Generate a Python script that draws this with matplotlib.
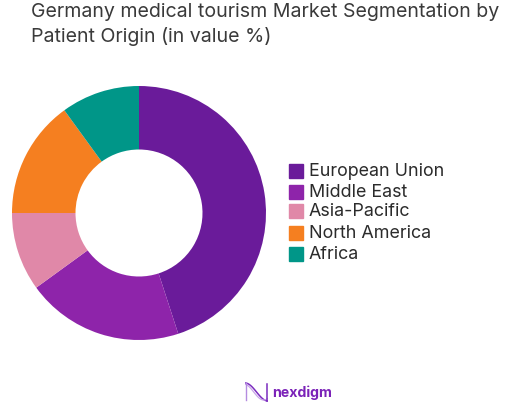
import numpy as np
import matplotlib
matplotlib.use('Agg')
import matplotlib.pyplot as plt
from matplotlib.patches import Rectangle

plt.rcParams['font.family'] = ['Inter', 'DejaVu Sans']

title_lines = ['Germany medical tourism Market Segmentation by', 'Patient Origin (in value %)']
labels = ['European Union', 'Middle East', 'Asia-Pacific', 'North America', 'Africa']
values = [45, 20, 10, 15, 10]
colors = ['#6A1B9A', '#8E24AA', '#E088A8', '#F57F20', '#009688']
logo_text = 'nexdigm'

W, H = 523, 409
fig = plt.figure(figsize=(W/100, H/100), dpi=100)

# donut
ax = fig.add_axes([12/W, 1-340/H, 254/W, 254/H])
ax.pie(values, colors=colors, startangle=90, counterclock=False, radius=1,
       wedgeprops=dict(width=0.5))
ax.set_xlim(-1, 1)
ax.set_ylim(-1, 1)

# title
for y, line in zip([12, 36], title_lines):
    fig.text(31/W, 1-y/H, line, fontsize=14.1, color='#3a3a3a', va='center')

# legend, rows are not evenly spaced in the original
legend_y = [171, 192, 211, 233, 254]
for y, lab, c in zip(legend_y, labels, colors):
    fig.add_artist(Rectangle((289/W, 1-(y+7)/H), 14/W, 14/H, color=c, transform=fig.transFigure))
    fig.text(309/W, 1-(y+0.5)/H, lab, fontsize=12.9, color='#2b2b2b', va='center')

# logo
logo = fig.add_axes([245/W, 1-402/H, 23/W, 20/H])
t = np.linspace(0, 1, 80)
logo.plot(t, 0.5 + 0.45*np.cos(t*np.pi), color='#7B2CBF', lw=1.1)
logo.plot(t, 0.5 + 0.4*np.cos(t*np.pi*1.15 + 0.2), color='#C9A6E8', lw=0.9)
logo.plot([0.03, 0.03], [0.08, 0.95], color='#B48CE0', lw=1)
logo.plot([0.97, 0.97], [0.05, 0.92], color='#7B2CBF', lw=1.1)
logo.set_xlim(0, 1)
logo.set_ylim(0, 1)
logo.axis('off')
fig.text(272/W, 1-392.5/H, logo_text, fontsize=10.2, fontweight='bold', color='#7B22B8', va='center')

fig.savefig('out.png', dpi=100)
